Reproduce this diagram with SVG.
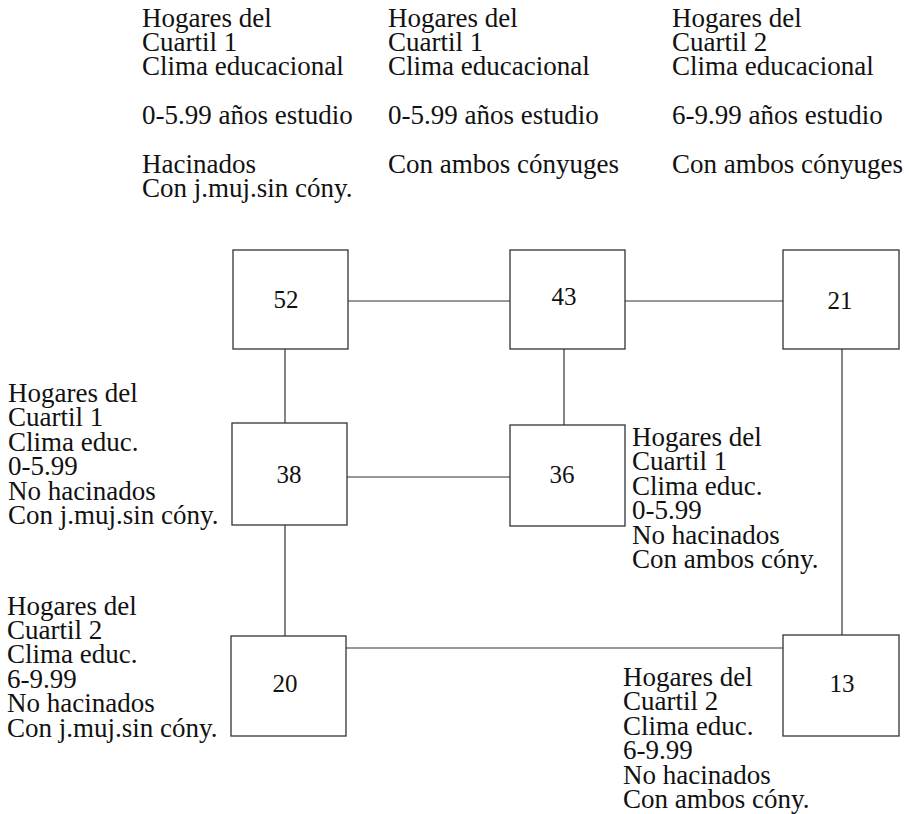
<svg xmlns="http://www.w3.org/2000/svg" width="909" height="814" viewBox="0 0 909 814">
  <style>
    text { font-family: "Liberation Serif", "Times New Roman", serif; font-size: 27px; fill: #111; }
    .num { text-anchor: middle; font-size: 25px; }
    .box { fill: #fff; stroke: #333; stroke-width: 1.3; }
    .wire { fill: none; stroke: #333; stroke-width: 1.2; }
  </style>
  <rect width="909" height="814" fill="#fff"/>

  <!-- column headings -->
  <g id="head-1">
    <text x="142" y="26.5">Hogares del</text>
    <text x="142" y="50.9">Cuartil 1</text>
    <text x="142" y="75.3">Clima educacional</text>
    <text x="142" y="124.1">0-5.99 años estudio</text>
    <text x="142" y="172.9">Hacinados</text>
    <text x="142" y="197.3">Con j.muj.sin cóny.</text>
  </g>
  <g id="head-2">
    <text x="388" y="26.5">Hogares del</text>
    <text x="388" y="50.9">Cuartil 1</text>
    <text x="388" y="75.3">Clima educacional</text>
    <text x="388" y="124.1">0-5.99 años estudio</text>
    <text x="388" y="172.9">Con ambos cónyuges</text>
  </g>
  <g id="head-3">
    <text x="672" y="26.5">Hogares del</text>
    <text x="672" y="50.9">Cuartil 2</text>
    <text x="672" y="75.3">Clima educacional</text>
    <text x="672" y="124.1">6-9.99 años estudio</text>
    <text x="672" y="172.9">Con ambos cónyuges</text>
  </g>

  <!-- connectors -->
  <g id="connectors">
    <line class="wire" x1="348" y1="301" x2="510" y2="301"/>
    <line class="wire" x1="625" y1="301" x2="783" y2="301"/>
    <line class="wire" x1="285" y1="349" x2="285" y2="423"/>
    <line class="wire" x1="564" y1="349" x2="564" y2="425"/>
    <line class="wire" x1="347" y1="477" x2="510" y2="477"/>
    <line class="wire" x1="285" y1="525" x2="285" y2="636"/>
    <line class="wire" x1="842" y1="349" x2="842" y2="635"/>
    <line class="wire" x1="346" y1="648" x2="783" y2="648"/>
  </g>

  <!-- nodes -->
  <g id="n52">
    <rect class="box" x="233" y="250" width="115" height="99"/>
    <text class="num" x="286" y="308">52</text>
  </g>
  <g id="n43">
    <rect class="box" x="510" y="250" width="115" height="99"/>
    <text class="num" x="564" y="305">43</text>
  </g>
  <g id="n21">
    <rect class="box" x="783" y="250" width="116" height="99"/>
    <text class="num" x="840" y="309">21</text>
  </g>
  <g id="n38">
    <rect class="box" x="232" y="423" width="115" height="102"/>
    <text class="num" x="289" y="483">38</text>
  </g>
  <g id="n36">
    <rect class="box" x="510" y="425" width="115" height="101"/>
    <text class="num" x="562" y="483">36</text>
  </g>
  <g id="n20">
    <rect class="box" x="231" y="636" width="115" height="100"/>
    <text class="num" x="285" y="692">20</text>
  </g>
  <g id="n13">
    <rect class="box" x="783" y="635" width="116" height="101"/>
    <text class="num" x="842" y="692">13</text>
  </g>

  <!-- side labels -->
  <g id="label-38">
    <text x="8" y="401.5">Hogares del</text>
    <text x="8" y="426">Cuartil 1</text>
    <text x="8" y="450.5">Clima educ.</text>
    <text x="8" y="475">0-5.99</text>
    <text x="8" y="499.5">No hacinados</text>
    <text x="8" y="524">Con j.muj.sin cóny.</text>
  </g>
  <g id="label-36">
    <text x="632" y="446">Hogares del</text>
    <text x="632" y="470.4">Cuartil 1</text>
    <text x="632" y="494.8">Clima educ.</text>
    <text x="632" y="519.2">0-5.99</text>
    <text x="632" y="543.6">No hacinados</text>
    <text x="632" y="568">Con ambos cóny.</text>
  </g>
  <g id="label-20">
    <text x="7" y="614.5">Hogares del</text>
    <text x="7" y="638.9">Cuartil 2</text>
    <text x="7" y="663.3">Clima educ.</text>
    <text x="7" y="687.7">6-9.99</text>
    <text x="7" y="712.1">No hacinados</text>
    <text x="7" y="736.5">Con j.muj.sin cóny.</text>
  </g>
  <g id="label-13">
    <text x="623" y="686">Hogares del</text>
    <text x="623" y="710.4">Cuartil 2</text>
    <text x="623" y="734.8">Clima educ.</text>
    <text x="623" y="759.2">6-9.99</text>
    <text x="623" y="783.6">No hacinados</text>
    <text x="623" y="808">Con ambos cóny.</text>
  </g>
</svg>
